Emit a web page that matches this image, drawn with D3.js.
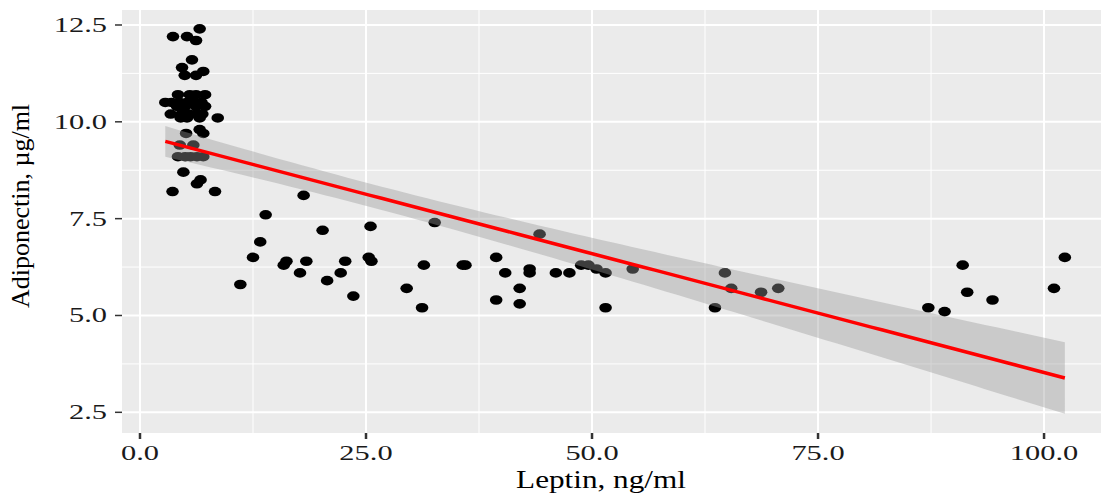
<!DOCTYPE html>
<html>
<head>
<meta charset="utf-8">
<script src="https://cdn.jsdelivr.net/npm/d3@7"></script>
<style>
  body { margin: 0; background: #fff; }
  text { font-family: "Liberation Serif", "Times New Roman", serif; }
</style>
</head>
<body>
<div id="chart"></div>
<script>
// leptin (ng/ml) and adiponectin (µg/ml)
var leptin = [
  3.65, 5.2, 6.6, 6.2, 5.75, 4.65, 4.95, 6.2, 7.0,
  4.2, 5.5, 6.2, 7.2, 2.8, 3.5, 4.4, 5.2, 5.9, 6.8,
  4.1, 5.0, 6.2, 7.2, 3.4, 4.6, 5.4, 6.2, 6.9,
  4.5, 5.2, 6.6, 8.6, 6.6, 7.0, 5.1, 4.4, 5.9,
  4.2, 5.0, 5.6, 6.3, 7.0, 4.8, 6.3, 6.7, 3.6, 8.3,
  11.1, 12.5, 13.3, 13.9, 15.9, 16.2, 17.7, 18.4, 18.1, 20.2, 20.7, 22.2,
  22.7, 23.6, 25.3, 25.6, 25.5, 29.5, 31.4, 31.2, 32.6, 35.7, 36.0,
  39.4, 39.4, 40.4, 42.0, 42.0, 43.1, 43.1, 44.2, 46.0, 47.5, 48.8,
  49.6, 50.5, 51.5, 51.5, 54.5, 63.6, 64.7, 65.4, 68.7, 70.6,
  87.2, 89.0, 91.0, 91.5, 94.3, 101.1, 102.3
];
var adiponectin = [
  12.2, 12.2, 12.4, 12.1, 11.6, 11.4, 11.2, 11.2, 11.3,
  10.7, 10.7, 10.7, 10.7, 10.5, 10.5, 10.5, 10.5, 10.5, 10.5,
  10.4, 10.4, 10.4, 10.4, 10.2, 10.2, 10.2, 10.2, 10.2,
  10.1, 10.1, 10.1, 10.1, 9.8, 9.7, 9.7, 9.4, 9.4,
  9.1, 9.1, 9.1, 9.1, 9.1, 8.7, 8.4, 8.5, 8.2, 8.2,
  5.8, 6.5, 6.9, 7.6, 6.3, 6.4, 6.1, 6.4, 8.1, 7.2, 5.9, 6.1,
  6.4, 5.5, 6.5, 6.4, 7.3, 5.7, 6.3, 5.2, 7.4, 6.3, 6.3,
  6.5, 5.4, 6.1, 5.7, 5.3, 6.2, 6.1, 7.1, 6.1, 6.1, 6.3,
  6.3, 6.2, 6.1, 5.2, 6.2, 5.2, 6.1, 5.7, 5.6, 5.7,
  5.2, 5.1, 6.3, 5.6, 5.4, 5.7, 6.5
];
var xTicks = [0, 25, 50, 75, 100];
var xMinor = [12.5, 37.5, 62.5, 87.5];
var yTicks = [2.5, 5, 7.5, 10, 12.5];
var yMinor = [3.75, 6.25, 8.75, 11.25];

var width = 1103, height = 496;
var pLeft = 122, pRight = 1101, pTop = 10, pBottom = 433;

var svg = d3.select('#chart').append('svg').attr('width', width).attr('height', height);

var x = d3.scaleLinear().domain([-1.99, 106.3]).range([pLeft, pRight]);
var y = d3.scaleLinear().domain([1.966, 12.887]).range([pBottom, pTop]);

// panel
svg.append('rect').attr('x', pLeft).attr('y', pTop)
  .attr('width', pRight - pLeft).attr('height', pBottom - pTop).attr('fill', '#ebebeb');

svg.selectAll('.ymin').data(yMinor).enter().append('line')
  .attr('x1', pLeft).attr('x2', pRight).attr('y1', d => y(d)).attr('y2', d => y(d))
  .attr('stroke', '#fff').attr('stroke-width', 1);
svg.selectAll('.xmin').data(xMinor).enter().append('line')
  .attr('y1', pTop).attr('y2', pBottom).attr('x1', d => x(d)).attr('x2', d => x(d))
  .attr('stroke', '#fff').attr('stroke-width', 1);
svg.selectAll('.ymaj').data(yTicks).enter().append('line')
  .attr('x1', pLeft).attr('x2', pRight).attr('y1', d => y(d)).attr('y2', d => y(d))
  .attr('stroke', '#fff').attr('stroke-width', 2);
svg.selectAll('.xmaj').data(xTicks).enter().append('line')
  .attr('y1', pTop).attr('y2', pBottom).attr('x1', d => x(d)).attr('x2', d => x(d))
  .attr('stroke', '#fff').attr('stroke-width', 2);

// points
var pts = leptin.map((d, i) => ({x: d, y: adiponectin[i]}));
svg.selectAll('.pt').data(pts).enter().append('ellipse')
  .attr('cx', d => x(d.x)).attr('cy', d => y(d.y))
  .attr('rx', 6.3).attr('ry', 4.8).attr('fill', '#000');

// linear fit with 95% band, like geom_smooth(method = 'lm')
var n = pts.length;
var mx = d3.mean(leptin), my = d3.mean(adiponectin);
var sxx = d3.sum(leptin, d => (d - mx) * (d - mx));
var sxy = d3.sum(pts, d => (d.x - mx) * (d.y - my));
var slope = sxy / sxx, icpt = my - slope * mx;
var sse = d3.sum(pts, d => Math.pow(d.y - (icpt + slope * d.x), 2));
var se = Math.sqrt(sse / (n - 2));
var tq = 1.984;
var xs = d3.range(80).map(i => d3.min(leptin) + i * (d3.max(leptin) - d3.min(leptin)) / 79);
var fit = xs.map(v => {
  var f = icpt + slope * v;
  var w = tq * se * Math.sqrt(1 / n + (v - mx) * (v - mx) / sxx);
  return {x: v, f: f, lo: f - w, hi: f + w};
});

svg.append('path').datum(fit)
  .attr('d', d3.area().x(d => x(d.x)).y0(d => y(d.lo)).y1(d => y(d.hi)))
  .attr('fill', '#999999').attr('fill-opacity', 0.4);
svg.append('path').datum(fit)
  .attr('d', d3.line().x(d => x(d.x)).y(d => y(d.f)))
  .attr('fill', 'none').attr('stroke', '#ff0000').attr('stroke-width', 3.5);

// axes
svg.selectAll('.ytk').data(yTicks).enter().append('line')
  .attr('x1', pLeft - 7).attr('x2', pLeft).attr('y1', d => y(d)).attr('y2', d => y(d))
  .attr('stroke', '#333').attr('stroke-width', 1.5);
svg.selectAll('.xtk').data(xTicks).enter().append('line')
  .attr('y1', pBottom).attr('y2', pBottom + 6).attr('x1', d => x(d)).attr('x2', d => x(d))
  .attr('stroke', '#333').attr('stroke-width', 2.5);

svg.selectAll('.ylab').data(yTicks).enter().append('text')
  .attr('transform', d => `translate(107,${y(d) + 7}) scale(1.45,1)`)
  .attr('text-anchor', 'end').attr('font-size', 21).attr('fill', '#1a1a1a')
  .text(d => d.toFixed(1));
svg.selectAll('.xlab').data(xTicks).enter().append('text')
  .attr('transform', d => `translate(${x(d)},460) scale(1.45,1)`)
  .attr('text-anchor', 'middle').attr('font-size', 21).attr('fill', '#1a1a1a')
  .text(d => d.toFixed(1));

svg.append('text')
  .attr('transform', 'translate(601,488) scale(1.2,1)')
  .attr('text-anchor', 'middle').attr('font-size', 26).attr('fill', '#000')
  .text('Leptin, ng/ml');
svg.append('text')
  .attr('transform', 'translate(29,206) rotate(-90)')
  .attr('text-anchor', 'middle').attr('font-size', 26).attr('fill', '#000')
  .text('Adiponectin, µg/ml');
</script>
</body>
</html>
